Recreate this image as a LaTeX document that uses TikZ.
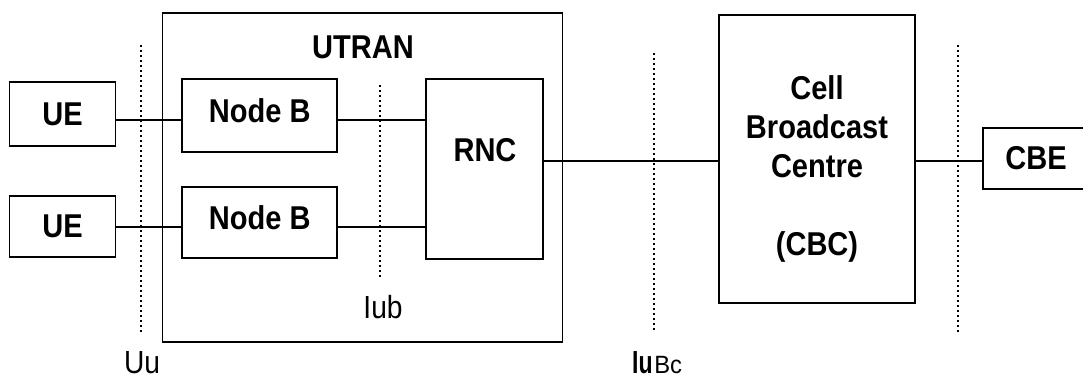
\documentclass[tikz,border=0pt]{standalone}
\usepackage{fontspec}
\usepackage{graphicx}
\setmainfont{Liberation Sans}
\newcommand\nar[1]{\scalebox{0.88}[1]{#1}}
\tikzset{
  box/.style={draw, line width=1.9pt, inner sep=0pt, font=\fontsize{33}{39}\selectfont\bfseries},
  lbl/.style={inner sep=0pt, font=\fontsize{33}{39}\selectfont\bfseries},
  ilbl/.style={inner sep=0pt, font=\fontsize{32}{39}\selectfont},
  conn/.style={line width=1.9pt},
  iface/.style={line width=2.2pt, dash pattern=on 2pt off 3pt}
}
\begin{document}
\begin{tikzpicture}[x=1pt,y=-1pt]
\useasboundingbox (0,0) rectangle (1083,378);
% boxes
\node[box, minimum width=400, minimum height=329] (utran) at (362.5,177.5) {};
\node[lbl] (utrant) at (363,47.5) {\nar{UTRAN}};
\node[box, minimum width=106, minimum height=64] (ue1) at (62.5,114) {\nar{UE}};
\node[box, minimum width=106, minimum height=61] (ue2) at (62.5,226.5) {\nar{UE}};
\node[box, minimum width=155, minimum height=73, text depth=10pt] (nb1) at (259.75,115.5) {\nar{Node B}};
\node[box, minimum width=155, minimum height=71, text depth=10pt] (nb2) at (259.75,222.5) {\nar{Node B}};
\node[box, minimum width=117, minimum height=180] (rnc) at (484.5,169) {};
\node[lbl] (rnct) at (485,150) {\nar{RNC}};
\node[box, minimum width=196, minimum height=288] (cbc) at (817,159) {};
\node[lbl, align=center, anchor=north] (cbct) at (817,75) {\nar{Cell}\\\nar{Broadcast}\\\nar{Centre}\\[39pt]\nar{(CBC)}};
\node[box, minimum width=106, minimum height=61] (cbe) at (1036,158.5) {\nar{CBE}};
% connector levels
\coordinate (r1) at (0,120);
\coordinate (r2) at (0,227);
\coordinate (r3) at (0,161);
\draw[conn] (ue1.east |- r1) -- (nb1.west |- r1);
\draw[conn] (ue2.east |- r2) -- (nb2.west |- r2);
\draw[conn] (nb1.east |- r1) -- (rnc.west |- r1);
\draw[conn] (nb2.east |- r2) -- (rnc.west |- r2);
\draw[conn] (rnc.east |- r3) -- (cbc.west |- r3);
\draw[conn] (cbc.east |- r3) -- (cbe.west |- r3);
% interface lines
\coordinate (uuT) at (141,45);   \coordinate (uuB) at (141,332);
\coordinate (iubT) at (380,85);  \coordinate (iubB) at (380,277);
\coordinate (iubcT) at (654,53); \coordinate (iubcB) at (654,332);
\coordinate (cbeT) at (958,45);  \coordinate (cbeB) at (958,332);
\draw[iface] (uuT) -- (uuB);
\draw[iface] (iubT) -- (iubB);
\draw[iface] (iubcT) -- (iubcB);
\draw[iface] (cbeT) -- (cbeB);
% interface labels
\node[ilbl, anchor=base] (uu) at (142,373) {\nar{Uu}};
\node[ilbl, anchor=base] (iub) at (383,318) {\nar{Iub}};
\node[inner sep=0pt, anchor=base west] (iubc) at (632,373) {{\fontsize{32}{39}\selectfont\bfseries\scalebox{0.72}[1]{Iu}}\,{\fontsize{25}{30}\selectfont\scalebox{0.95}[1]{Bc}}};
\end{tikzpicture}
\end{document}
